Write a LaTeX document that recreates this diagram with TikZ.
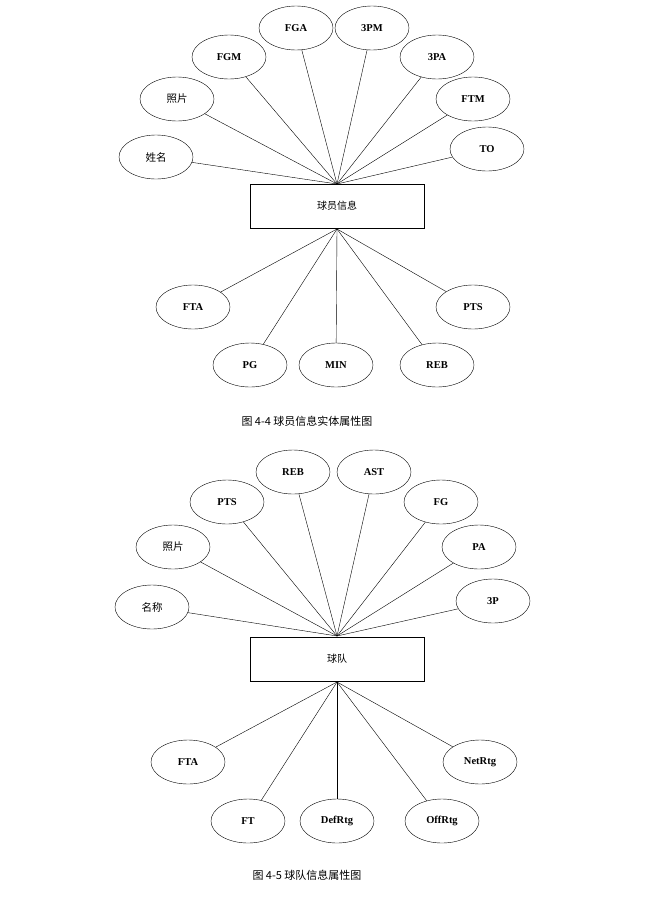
\documentclass[tikz,border=0pt]{standalone}
\usepackage{fontspec}
\setmainfont{Liberation Serif}
\newfontfamily\cjk{Noto Sans CJK SC}
\usepackage{tikz}
\usetikzlibrary{shapes.geometric}
\tikzset{
  attr/.style={draw, ellipse, minimum width=74pt, minimum height=44pt, inner sep=0pt, font=\fontsize{10.5}{12}\selectfont\bfseries},
  entity/.style={draw, rectangle, minimum width=174pt, minimum height=44pt, font=\cjk\fontsize{10}{12}\selectfont},
  caption/.style={font=\cjk\fontsize{11}{13}\selectfont}
}

\begin{document}
\begin{tikzpicture}[x=1pt,y=-1pt]
        \useasboundingbox (0,0) rectangle (664,897);
        % player entity
        \node[entity] (player) at (337,206) {球员信息};
        \coordinate (ptop) at (337,184);
        \coordinate (pbot) at (337,229);
        \foreach \name/\x/\y/\txt in {pa/156/157/{\cjk\mdseries 姓名}, pb/177/99/{\cjk\mdseries 照片}, pc/229/57/FGM, pd/296/28/FGA,
            pe/372/28/3PM, pf/437/57/3PA, pg/473/99/FTM, ph/487/149/TO}{
            \node[attr] (\name) at (\x,\y) {\txt};
            \draw (\name) -- (ptop);
        }
        \foreach \name/\x/\y/\txt in {pi/193/307/FTA, pj/250/365/PG, pk/336/365/MIN, pl/437/365/REB, pm/473/307/PTS}{
            \node[attr] (\name) at (\x,\y) {\txt};
            \draw (\name) -- (pbot);
        }
        \node[caption] (cap1) at (307,421) {图 4-4 球员信息实体属性图};
        % team entity
        \node[entity] (team) at (337,659) {球队};
        \coordinate (ttop) at (337,636);
        \coordinate (tbot) at (337,682);
        \foreach \name/\x/\y/\txt in {ta/152/607/{\cjk\mdseries 名称}, tb/173/547/{\cjk\mdseries 照片}, tc/227/502/PTS, td/293/472/REB,
            te/374/472/AST, tf/441/502/FG, tg/479/547/PA, th/493/601/3P}{
            \node[attr] (\name) at (\x,\y) {\txt};
            \draw (\name) -- (ttop);
        }
        \foreach \name/\x/\y/\txt in {ti/188/762/FTA, tj/248/821/FT, tk/337/821/DefRtg, tl/442/821/OffRtg, tm/480/762/NetRtg}{
            \node[attr] (\name) at (\x,\y) {\txt};
            \draw (\name) -- (tbot);
        }
        \node[caption] (cap2) at (307,875) {图 4-5 球队信息属性图};
\end{tikzpicture}
\end{document}
